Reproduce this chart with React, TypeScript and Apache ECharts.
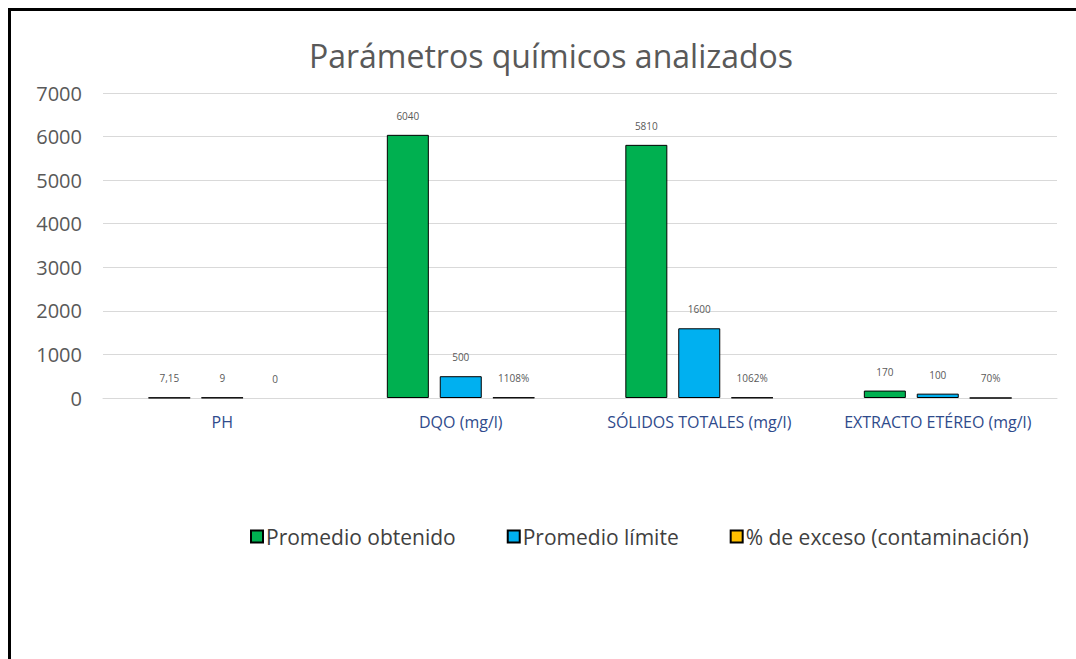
import React, { useEffect, useRef } from "react";
import * as echarts from "echarts";

const categories = ["PH", "DQO (mg/l)", "SÓLIDOS TOTALES (mg/l)", "EXTRACTO ETÉREO (mg/l)"];
const promedioObtenido = [7.15, 6040, 5810, 170];
const promedioLimite = [9, 500, 1600, 100];
const excesoPct = [0, 11.08, 10.62, 0.7];
const yTicks = { min: 0, max: 7000, interval: 1000 };

const fmtNum = (v: number) => String(v).replace(".", ",");
const fmtPct = (v: number) => (v === 0 ? "0" : `${Math.round(v * 100)}%`);

export default function App() {
  const ref = useRef<HTMLDivElement>(null);
  useEffect(() => {
    const chart = echarts.init(ref.current!, null, { renderer: "svg" });
    const font = "'Open Sans', 'Noto Sans', sans-serif";
    const labelCommon = {
      show: true,
      position: "top" as const,
      distance: 14,
      fontSize: 10,
      color: "#595959",
      fontFamily: font,
    };
    chart.setOption({
      animation: false,
      backgroundColor: "#ffffff",
      title: {
        text: "Parámetros químicos analizados",
        left: 546,
        textAlign: "center",
        top: 34,
        textStyle: { fontSize: 32, fontWeight: "normal", color: "#595959", fontFamily: font },
      },
      legend: {
        top: 521,
        left: 245,
        itemWidth: 12,
        itemHeight: 12,
        itemGap: 51,
        icon: "rect",
        textStyle: { fontSize: 21, color: "#404040", fontFamily: font, padding: [0, 0, 0, -2] },
        data: ["Promedio obtenido", "Promedio límite", "% de exceso (contaminación)"],
      },
      grid: { left: 103, top: 93, width: 954, height: 305, containLabel: false },
      xAxis: {
        type: "category",
        data: categories,
        axisLine: { lineStyle: { color: "#D9D9D9", width: 1 } },
        axisTick: { show: false },
        axisLabel: { interval: 0, fontSize: 16, color: "#2F4B8C", margin: 16, fontFamily: font },
      },
      yAxis: {
        type: "value",
        min: yTicks.min,
        max: yTicks.max,
        interval: yTicks.interval,
        axisLine: { show: false },
        axisTick: { show: false },
        splitLine: { lineStyle: { color: "#D9D9D9", width: 1 } },
        axisLabel: {
          fontSize: 20,
          color: "#595959",
          margin: 21,
          fontFamily: font,
          formatter: (v: number) => String(v),
        },
      },
      series: [
        {
          name: "Promedio obtenido",
          type: "bar",
          data: promedioObtenido,
          barWidth: 42,
          barGap: "26%",
          itemStyle: { color: "#00B050", borderColor: "#000000", borderWidth: 1 },
          label: { ...labelCommon, formatter: (p: any) => fmtNum(p.value) },
        },
        {
          name: "Promedio límite",
          type: "bar",
          data: promedioLimite,
          barWidth: 42,
          barGap: "26%",
          itemStyle: { color: "#00B0F0", borderColor: "#000000", borderWidth: 1 },
          label: { ...labelCommon, formatter: (p: any) => fmtNum(p.value) },
        },
        {
          name: "% de exceso (contaminación)",
          type: "bar",
          data: excesoPct.map((v) =>
            v === 0 ? { value: v, itemStyle: { borderWidth: 0 } } : v
          ),
          barWidth: 42,
          barGap: "26%",
          itemStyle: { color: "#FFC000", borderColor: "#000000", borderWidth: 1 },
          label: { ...labelCommon, formatter: (p: any) => fmtPct(p.value) },
        },
      ],
      graphic: [
        {
          type: "rect",
          shape: { x: 9.5, y: 9.5, width: 3000, height: 3000 },
          style: { fill: "none", stroke: "#000000", lineWidth: 3 },
          silent: true,
        },
      ],
    });
    return () => chart.dispose();
  }, []);
  return (
    <div
      ref={ref}
      style={{ position: "fixed", left: 0, top: 0, width: 1076, height: 659 }}
    />
  );
}
